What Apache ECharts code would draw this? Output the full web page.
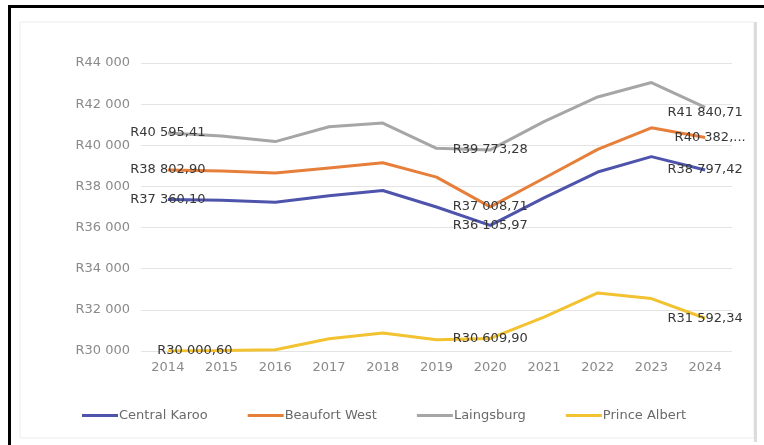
<!DOCTYPE html>
<html>
<head>
<meta charset="utf-8">
<script src="https://cdn.jsdelivr.net/npm/echarts@6/dist/echarts.min.js"></script>
<style>
  html, body { margin: 0; padding: 0; background: #ffffff; }
  #chart { width: 764px; height: 445px; }
</style>
</head>
<body>
<div id="chart"></div>
<script>
// Average household income per municipality, 2014-2024 (Rand)
const years = ['2014', '2015', '2016', '2017', '2018', '2019', '2020', '2021', '2022', '2023', '2024'];
const centralKaroo = [37360.10, 37330, 37230, 37550, 37800, 37000, 36105.97, 37440, 38700, 39450, 38797.42];
const beaufortWest = [38802.90, 38750, 38650, 38900, 39150, 38450, 37008.71, 38400, 39800, 40850, 40382];
const laingsburg   = [40595.41, 40450, 40180, 40900, 41080, 39850, 39773.28, 41150, 42350, 43050, 41840.71];
const princeAlbert = [30000.60, 30020, 30060, 30600, 30870, 30550, 30609.90, 31650, 32820, 32550, 31592.34];
const yTicks = [30000, 32000, 34000, 36000, 38000, 40000, 42000, 44000];
const labelledYears = ['2014', '2020', '2024'];

const FONT = 'DejaVu Sans';

function groupThousands(intStr) {
  return intStr.replace(/\B(?=(\d{3})+(?!\d))/g, ' ');
}
function randAxis(v) {
  return 'R' + groupThousands(String(Math.round(v)));
}
function randValue(v) {
  const parts = v.toFixed(2).split('.');
  return 'R' + groupThousands(parts[0]) + ',' + parts[1];
}
// clipped label: keeps the integer part and the comma, then an ellipsis
function randValueClipped(p) {
  const full = randValue(p.value);
  return full.slice(0, full.indexOf(',') + 1) + '...';
}

function buildData(values, extra) {
  return values.map(function (v, i) {
    const item = { value: v };
    if (labelledYears.indexOf(years[i]) !== -1) {
      item.label = Object.assign({ show: true }, (extra && extra[i]) || {});
    }
    return item;
  });
}

function lineSeries(name, color, values, extra) {
  return {
    name: name,
    type: 'line',
    data: buildData(values, extra),
    symbol: 'circle',
    symbolSize: 0,
    showSymbol: true,
    lineStyle: { color: color, width: 3 },
    itemStyle: { color: color },
    label: {
      show: false,
      position: 'inside',
      color: '#383838',
      fontFamily: FONT,
      fontSize: 13,
      formatter: function (p) { return randValue(p.value); }
    },
    emphasis: { disabled: true },
    z: 2
  };
}

const chart = echarts.init(document.getElementById('chart'), null, { renderer: 'canvas' });

chart.setOption({
  backgroundColor: '#ffffff',
  animation: false,
  color: ['#4e54ac', '#e67f3a', '#a6a6a6', '#f2c230'],
  graphic: [
    { type: 'rect', shape: { x: 20, y: 22, width: 734, height: 416 },
      style: { fill: 'none', stroke: '#ececec', lineWidth: 1 }, silent: true },
    { type: 'rect', shape: { x: 754, y: 22, width: 3, height: 420 },
      style: { fill: '#dcdcdc' }, silent: true },
    { type: 'rect', shape: { x: 8, y: 5, width: 756, height: 3 },
      style: { fill: '#000000' }, silent: true },
    { type: 'rect', shape: { x: 8, y: 5, width: 3, height: 440 },
      style: { fill: '#000000' }, silent: true }
  ],
  grid: { left: 141, right: 32, top: 63, bottom: 94, containLabel: false },
  legend: {
    left: 77,
    top: 404,
    icon: 'rect',
    itemWidth: 36,
    itemHeight: 3,
    itemGap: 40,
    textStyle: { color: '#6a6a6a', fontFamily: FONT, fontSize: 13, padding: [0, 0, 0, -4] },
    data: ['Central Karoo', 'Beaufort West', 'Laingsburg', 'Prince Albert']
  },
  xAxis: {
    type: 'category',
    data: years,
    boundaryGap: true,
    axisLine: { show: false },
    axisTick: { show: false },
    axisLabel: { color: '#8a8a8a', fontFamily: FONT, fontSize: 13, margin: 10 }
  },
  yAxis: {
    type: 'value',
    min: yTicks[0],
    max: yTicks[yTicks.length - 1],
    interval: yTicks[1] - yTicks[0],
    axisLine: { show: false },
    axisTick: { show: false },
    splitLine: { lineStyle: { color: '#e4e4e4', width: 1 } },
    axisLabel: {
      color: '#8a8a8a', fontFamily: FONT, fontSize: 13, margin: 11,
      formatter: randAxis
    }
  },
  series: [
    lineSeries('Central Karoo', '#4e54ac', centralKaroo),
    lineSeries('Beaufort West', '#e67f3a', beaufortWest, {
      10: { formatter: randValueClipped, offset: [5, 0] }
    }),
    lineSeries('Laingsburg', '#a6a6a6', laingsburg, {
      10: { offset: [0, 5] }
    }),
    lineSeries('Prince Albert', '#f2c230', princeAlbert, {
      0: { offset: [27, 0] }
    })
  ]
});
</script>
</body>
</html>
